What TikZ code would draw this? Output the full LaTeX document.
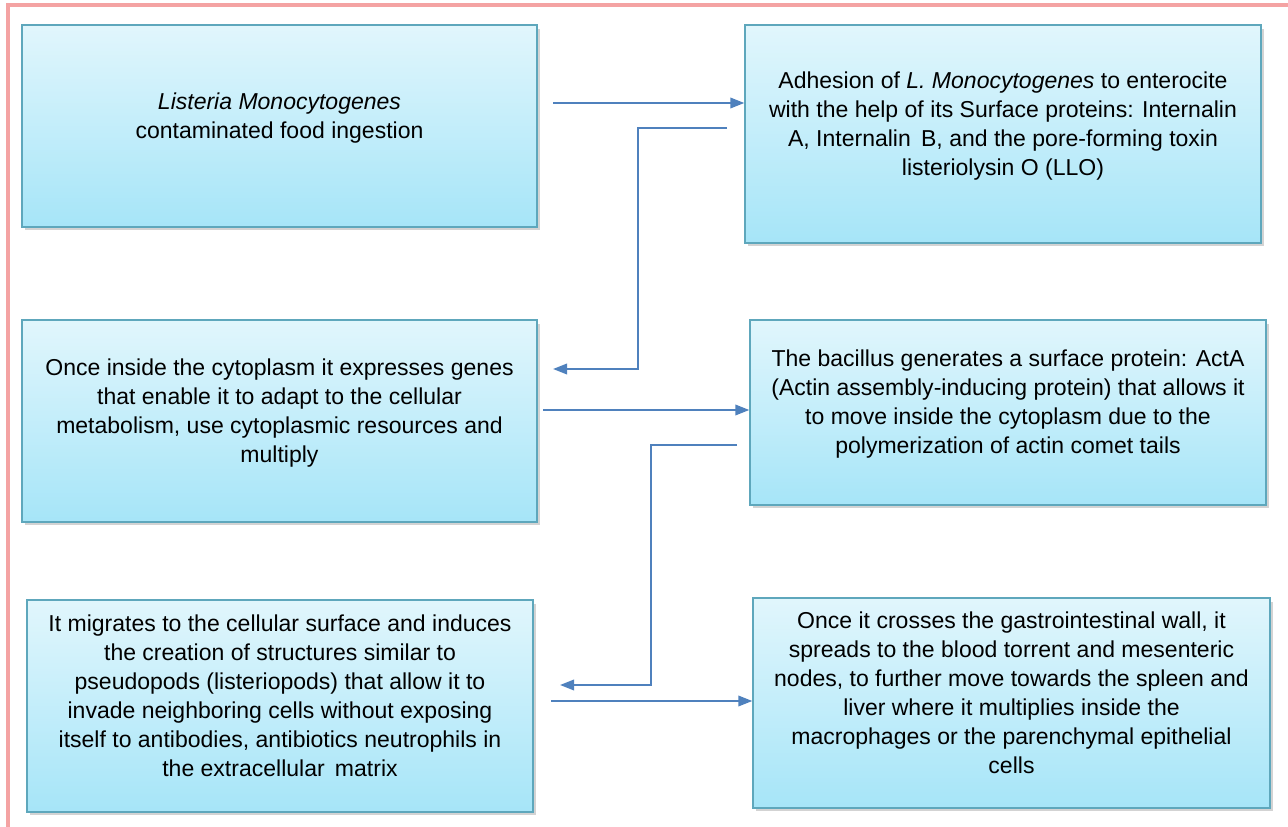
\documentclass[tikz,border=0pt]{standalone}
\usepackage{fontspec}
\setmainfont{Liberation Sans}
\usetikzlibrary{arrows.meta,shadows}
\definecolor{framepink}{HTML}{F4A3A3}
\definecolor{arrowblue}{HTML}{4F81BD}
\definecolor{boxedge}{HTML}{5EA7BC}
\definecolor{boxtop}{HTML}{E1F6FC}
\definecolor{boxbottom}{HTML}{A6E5F8}

\begin{document}
\begin{tikzpicture}[x=0.02cm,y=-0.02cm,
  stage/.style={draw=boxedge,line width=0.8pt,top color=boxtop,bottom color=boxbottom,
    drop shadow={shadow xshift=1.5pt,shadow yshift=-2pt,opacity=0.35},
    align=center,inner sep=2pt,text depth=12pt,font=\fontsize{13.1}{16.5}\selectfont},
  flow/.style={arrowblue,line width=1.1pt,-{Triangle[length=8pt,width=6pt]}}]
  \useasboundingbox (0,0) rectangle (1288,827);
  \draw[framepink,line width=1.8pt] (8,827) -- (8,5) -- (1288,5);

  \node[stage,minimum width=10.3cm,minimum height=4.04cm] (food) at (279.5,126)
    {\textit{Listeria Monocytogenes}\\ contaminated food ingestion};
  \node[stage,minimum width=10.32cm,minimum height=4.36cm] (adhesion) at (1003,134)
    {Adhesion of \textit{L. Monocytogenes} to enterocite\\ with the help of its Surface proteins: Internalin\\ A, Internalin\, B, and the pore-forming toxin\\ listeriolysin O (LLO)};
  \node[stage,minimum width=10.3cm,minimum height=4.04cm] (cytoplasm) at (279.5,421)
    {Once inside the cytoplasm it expresses genes\\ that enable it to adapt to the cellular\\ metabolism, use cytoplasmic resources and\\ multiply};
  \node[stage,minimum width=10.32cm,minimum height=3.7cm] (actin) at (1008,412.5)
    {The bacillus generates a surface protein: ActA\\ (Actin assembly-inducing protein) that allows it\\ to move inside the cytoplasm due to the\\ polymerization of actin comet tails};
  \node[stage,minimum width=10.12cm,minimum height=4.24cm] (migrate) at (280,706)
    {It migrates to the cellular surface and induces\\ the creation of structures similar to\\ pseudopods (listeriopods) that allow it to\\ invade neighboring cells without exposing\\ itself to antibodies, antibiotics neutrophils in\\ the extracellular\, matrix};
  \node[stage,minimum width=10.34cm,minimum height=4.2cm] (spread) at (1011.5,703)
    {Once it crosses the gastrointestinal wall, it\\ spreads to the blood torrent and mesenteric\\ nodes, to further move towards the spleen and\\ liver where it multiplies inside the\\ macrophages or the parenchymal epithelial\\ cells};

  \coordinate (a1) at (553,103);
  \coordinate (a2s) at (727,128);
  \coordinate (a2e) at (553,369);
  \coordinate (a3) at (543,410);
  \coordinate (a4s) at (737,445);
  \coordinate (a4e) at (560,685);
  \coordinate (a5) at (551,701);
  \draw[flow] (a1) -- (a1 -| adhesion.west);
  \draw[flow] (a2s) -- ++(-89,0) |- (a2e);
  \draw[flow] (a3) -- (a3 -| actin.west);
  \draw[flow] (a4s) -- ++(-86,0) |- (a4e);
  \draw[flow] (a5) -- (a5 -| spread.west);
\end{tikzpicture}
\end{document}
